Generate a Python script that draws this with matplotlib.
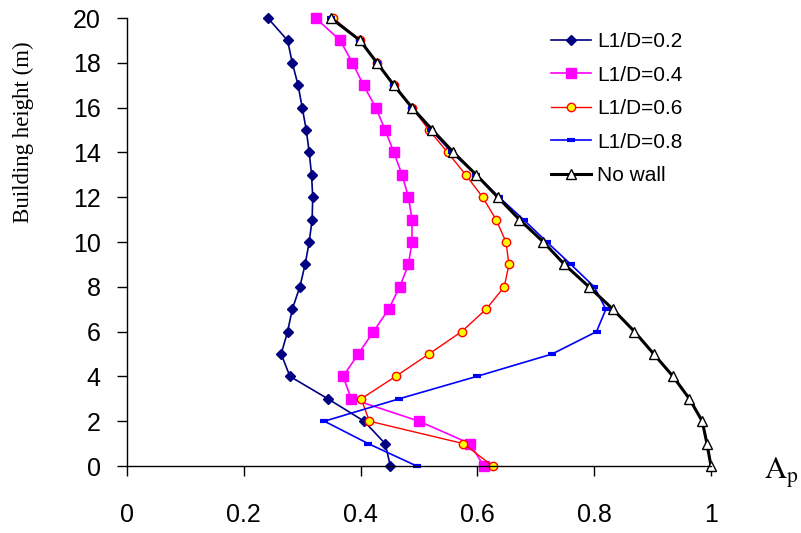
import matplotlib
matplotlib.use("Agg")
import matplotlib.pyplot as plt

# storey heights (m) and peak factor A_p for each wall length ratio
heights = list(range(0, 21))

ap_ld02 = [0.451, 0.442, 0.406, 0.344, 0.279, 0.264, 0.275, 0.283, 0.296, 0.305, 0.312,
           0.317, 0.318, 0.316, 0.312, 0.307, 0.300, 0.293, 0.283, 0.275, 0.241]
ap_ld04 = [0.611, 0.587, 0.500, 0.384, 0.370, 0.396, 0.422, 0.448, 0.467, 0.482, 0.488,
           0.488, 0.482, 0.471, 0.457, 0.442, 0.426, 0.405, 0.386, 0.365, 0.323]
ap_ld06 = [0.626, 0.576, 0.415, 0.401, 0.460, 0.517, 0.573, 0.615, 0.646, 0.654, 0.649,
           0.632, 0.609, 0.580, 0.549, 0.517, 0.488, 0.457, 0.428, 0.399, 0.353]
ap_ld08 = [0.496, 0.413, 0.338, 0.466, 0.599, 0.728, 0.804, 0.820, 0.800, 0.760, 0.719,
           0.679, 0.637, 0.598, 0.556, 0.521, 0.488, 0.457, 0.428, 0.399, 0.349]
ap_nowall = [1.000, 0.993, 0.985, 0.963, 0.935, 0.902, 0.869, 0.832, 0.791, 0.749, 0.713,
             0.672, 0.635, 0.598, 0.559, 0.523, 0.488, 0.457, 0.428, 0.399, 0.349]

labels = ["L1/D=0.2", "L1/D=0.4", "L1/D=0.6", "L1/D=0.8", "No wall"]
x_ticks = [0, 0.2, 0.4, 0.6, 0.8, 1]
x_tick_labels = ["0", "0.2", "0.4", "0.6", "0.8", "1"]
y_ticks = list(range(0, 21, 2))

plt.rcParams["font.family"] = ["Liberation Sans", "DejaVu Sans"]
plt.rcParams["mathtext.fontset"] = "stix"

fig = plt.figure(figsize=(8.01, 5.33), dpi=100)
ax = fig.add_axes([127 / 801, 67 / 533, 584 / 801, 448 / 533])

ax.plot(ap_ld02, heights, color="#000080", lw=1.2, marker="D", ms=5.5,
        mfc="#000080", mec="#000080", label=labels[0], clip_on=False)
ax.plot(ap_ld04, heights, color="#FF00FF", lw=1.2, marker="s", ms=6.5,
        mfc="#FF00FF", mec="#FF00FF", label=labels[1], clip_on=False)
ax.plot(ap_ld06, heights, color="#FF0000", lw=1.0, marker="o", ms=6,
        mfc="#FFFF00", mec="#FF0000", mew=1.0, label=labels[2], clip_on=False)
ax.plot(ap_ld08, heights, color="#0000FF", lw=1.2, marker="_", ms=6,
        mew=3, mec="#0000FF", label=labels[3], clip_on=False)
ax.plot(ap_nowall, heights, color="black", lw=2.2, marker="^", ms=7,
        mfc="white", mec="black", mew=1.0, label=labels[4], clip_on=False)

ax.set_xlim(0, 1)
ax.set_ylim(0, 20)
ax.set_xticks(x_ticks)
ax.set_xticklabels(x_tick_labels)
ax.set_yticks(y_ticks)
ax.tick_params(axis="both", direction="out", length=7, width=1, labelsize=18)
ax.tick_params(axis="x", pad=20)
ax.tick_params(axis="y", pad=12)
for side in ["top", "right"]:
    ax.spines[side].set_visible(False)
for side in ["left", "bottom"]:
    ax.spines[side].set_linewidth(1)

fig.text(23 / 801, 1 - 132 / 533, "Building height (m)", rotation=90,
         ha="center", va="center", fontsize=16.5, family="Liberation Serif")
ax.text(1.09, -0.3, r"$\mathrm{A_p}$", fontsize=22, ha="left", va="center",
        transform=ax.transData, clip_on=False)

ax.legend(loc="upper left", bbox_to_anchor=(551 / 801, 1 - 32 / 533),
          bbox_transform=fig.transFigure, frameon=False, fontsize=15,
          handlelength=1.9, handletextpad=0.3, labelspacing=0.7,
          borderpad=0, borderaxespad=0)

fig.savefig("out.png", dpi=100)
